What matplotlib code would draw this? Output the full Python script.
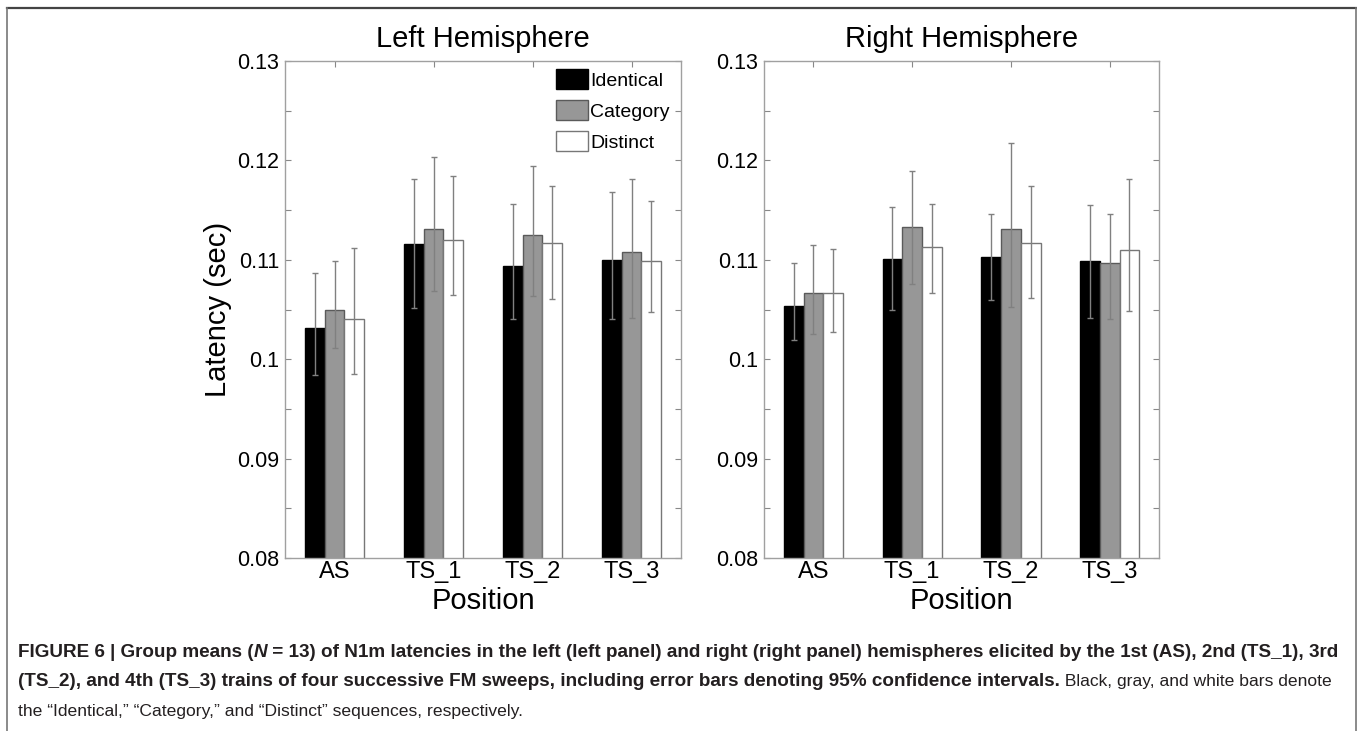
import numpy as np
import matplotlib.pyplot as plt
from matplotlib.patches import Patch
from matplotlib.lines import Line2D

plt.rcParams['font.family'] = ['Liberation Sans', 'DejaVu Sans']

positions = ["AS", "TS_1", "TS_2", "TS_3"]
conditions = ["Identical", "Category", "Distinct"]
yticks_labels = ["0.08", "0.09", "0.1", "0.11", "0.12", "0.13"]

# Left hemisphere: means and 95% CI bounds
left_identical = [0.1031, 0.1116, 0.1094, 0.1100]
left_identical_lo = [0.0984, 0.1052, 0.1040, 0.1040]
left_identical_hi = [0.1087, 0.1181, 0.1156, 0.1168]
left_category = [0.1050, 0.1131, 0.1125, 0.1108]
left_category_lo = [0.1011, 0.1069, 0.1064, 0.1041]
left_category_hi = [0.1099, 0.1203, 0.1194, 0.1181]
left_distinct = [0.1040, 0.1120, 0.1117, 0.1099]
left_distinct_lo = [0.0985, 0.1065, 0.1061, 0.1047]
left_distinct_hi = [0.1112, 0.1184, 0.1174, 0.1159]

# Right hemisphere
right_identical = [0.1054, 0.1101, 0.1103, 0.1099]
right_identical_lo = [0.1019, 0.1049, 0.1060, 0.1041]
right_identical_hi = [0.1097, 0.1153, 0.1146, 0.1155]
right_category = [0.1067, 0.1133, 0.1131, 0.1097]
right_category_lo = [0.1025, 0.1076, 0.1053, 0.1040]
right_category_hi = [0.1115, 0.1189, 0.1218, 0.1146]
right_distinct = [0.1067, 0.1113, 0.1117, 0.1110]
right_distinct_lo = [0.1027, 0.1067, 0.1062, 0.1048]
right_distinct_hi = [0.1111, 0.1156, 0.1174, 0.1181]

fills = ["black", "#979797", "white"]
edges = ["black", "#5a5a5a", "#777777"]
err_color = "#808080"
spine_color = "#a0a0a0"

fig = plt.figure(figsize=(13.57, 7.31), dpi=100)
W, H = 1357, 731

ax_l = fig.add_axes([285 / W, 1 - 558 / H, 396 / W, 497 / H])
ax_r = fig.add_axes([764 / W, 1 - 558 / H, 395 / W, 497 / H])

x = np.arange(1, len(positions) + 1)
width = 0.2


def draw_panel(ax, series, title):
    for i, (mean, lo, hi) in enumerate(series):
        mean = np.array(mean)
        err = [mean - np.array(lo), np.array(hi) - mean]
        xs = x + (i - 1) * width
        ax.bar(xs, mean, width, color=fills[i], edgecolor=edges[i],
               linewidth=1.0, label=conditions[i], zorder=2)
        ax.errorbar(xs, mean, yerr=err, fmt="none", ecolor=err_color,
                    elinewidth=1.0, capsize=2.3, capthick=1.0, zorder=3)
    ax.set_xlim(0.5, 4.5)
    ax.set_ylim(0.08, 0.13)
    ax.set_xticks(x)
    ax.set_xticklabels(positions, fontsize=17)
    ticks = np.arange(0.08, 0.1301, 0.005)
    ax.set_yticks(ticks)
    labels = []
    for k in range(len(ticks)):
        labels.append(yticks_labels[k // 2] if k % 2 == 0 else "")
    ax.set_yticklabels(labels, fontsize=15.5)
    ax.tick_params(direction="in", length=4, width=0.8, color="#888888",
                   top=True, right=True, pad=4)
    ax.tick_params(axis="x", pad=2)
    for s in ax.spines.values():
        s.set_color(spine_color)
        s.set_linewidth(1.0)
    ax.set_xlabel("Position", fontsize=21, labelpad=3)
    ax.set_title(title, fontsize=21, pad=10)


draw_panel(ax_l, [(left_identical, left_identical_lo, left_identical_hi),
                  (left_category, left_category_lo, left_category_hi),
                  (left_distinct, left_distinct_lo, left_distinct_hi)],
           "Left Hemisphere")
draw_panel(ax_r, [(right_identical, right_identical_lo, right_identical_hi),
                  (right_category, right_category_lo, right_category_hi),
                  (right_distinct, right_distinct_lo, right_distinct_hi)],
           "Right Hemisphere")

ax_l.set_ylabel("Latency (sec)", fontsize=21, labelpad=4)

handles = [Patch(facecolor=fills[i], edgecolor=edges[i], linewidth=1.0)
           for i in range(3)]
ax_l.legend(handles, conditions, loc="upper left",
            bbox_to_anchor=((556 - 285) / 396, (558 - 69) / 497),
            frameon=False, fontsize=14, borderpad=0, borderaxespad=0,
            handlelength=1.65, handleheight=1.22, handletextpad=0.12,
            labelspacing=0.54)

# page frame lines
fig.add_artist(Line2D([7 / W, 1356 / W], [1 - 8 / H, 1 - 8 / H],
                      transform=fig.transFigure, color="#444444", lw=1.6))
fig.add_artist(Line2D([7 / W, 7 / W], [0, 1 - 8 / H],
                      transform=fig.transFigure, color="#777777", lw=1.2))
fig.add_artist(Line2D([1355.5 / W, 1355.5 / W], [0, 1 - 8 / H],
                      transform=fig.transFigure, color="#777777", lw=1.2))

# caption with mixed weights
caption = [
    [("FIGURE 6 | Group means (", "bold", "normal"),
     ("N", "bold", "italic"),
     (" = 13) of N1m latencies in the left (left panel) and right (right panel) "
      "hemispheres elicited by the 1st (AS), 2nd (TS_1), 3rd", "bold", "normal")],
    [("(TS_2), and 4th (TS_3) trains of four successive FM sweeps, including "
      "error bars denoting 95% confidence intervals.", "bold", "normal"),
     (" Black, gray, and white bars denote", "normal", "normal")],
    [("the \u201cIdentical,\u201d \u201cCategory,\u201d and \u201cDistinct\u201d "
      "sequences, respectively.", "normal", "normal")],
]
sizes = {"bold": 13.55, "normal": 12.6}
line_y = [657, 686, 716]
renderer = fig.canvas.get_renderer()
for pieces, yb in zip(caption, line_y):
    xp = 18
    for txt, weight, style in pieces:
        t = fig.text(xp / W, 1 - yb / H, txt, fontsize=sizes[weight],
                     fontweight=weight, fontstyle=style, color="#231f20",
                     va="baseline", ha="left")
        bb = t.get_window_extent(renderer)
        xp = bb.x1

fig.savefig("out.png", dpi=100)
